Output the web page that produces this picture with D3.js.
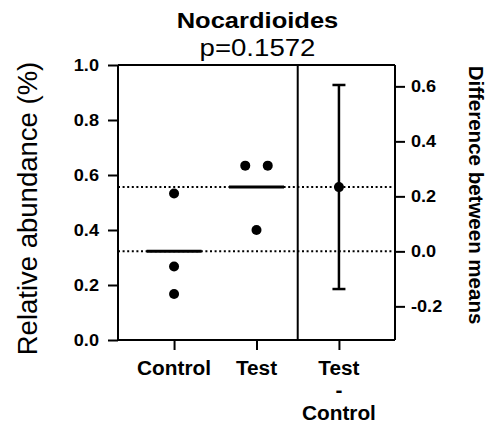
<!DOCTYPE html>
<html>
<head>
<meta charset="utf-8">
<script src="https://cdn.jsdelivr.net/npm/d3@7"></script>
<style>
  html, body { margin: 0; padding: 0; background: #fff; }
  svg { display: block; font-family: "Liberation Sans", Arial, Helvetica, sans-serif; }
</style>
</head>
<body>
<svg id="chart" width="487" height="427"></svg>
<script>
// ---- data ----
const title = "Nocardioides";
const pLabel = "p=0.1572";
const diffCategory = "Test - Control";
const categories = ["Control", "Test", "Test - Control"];
const controlValues = [0.533, 0.267, 0.167];
const testValues = [0.634, 0.634, 0.400];
const diffCI = [-0.137, 0.605];
const leftTicks = [0.0, 0.2, 0.4, 0.6, 0.8, 1.0];
const rightTicks = [-0.2, 0.0, 0.2, 0.4, 0.6];
const yLabel = "Relative abundance (%)";
const y2Label = "Difference between means";

// ---- layout ----
const svg = d3.select("#chart");
const L = 118, R = 395, T = 65, B = 340;
const ink = "#000";

const x = d3.scalePoint().domain(categories).range([L, R]).padding(0.68);
const y = d3.scaleLinear().domain([0, 1]).range([B, T]);

const meanC = d3.mean(controlValues);
const meanT = d3.mean(testValues);
const diff = meanT - meanC;
const y2 = d3.scaleLinear().domain([-meanC, 1 - meanC]).range([B, T]);

// horizontally stretched text helper
function stretchText(sel, s) {
  sel.each(function() {
    const t = d3.select(this);
    const xv = +t.attr("x") || 0;
    t.attr("x", xv / s).attr("transform", `scale(${s},1)`);
  });
}

// dotted reference lines
svg.append("g").selectAll("line").data([meanC, meanT]).join("line")
  .attr("x1", L).attr("x2", R)
  .attr("y1", d => y(d)).attr("y2", d => y(d))
  .attr("stroke", ink).attr("stroke-width", 2).attr("stroke-dasharray", "2,2.6");

// frame: top border and divider
const divX = (x("Test") + x("Test - Control")) / 2;
svg.append("line").attr("x1", L).attr("x2", R).attr("y1", T).attr("y2", T)
  .attr("stroke", ink).attr("stroke-width", 2);
svg.append("line").attr("x1", divX).attr("x2", divX).attr("y1", T).attr("y2", B)
  .attr("stroke", ink).attr("stroke-width", 2);

// left axis
const gL = svg.append("g").attr("transform", `translate(${L},0)`)
  .call(d3.axisLeft(y).tickValues(leftTicks).tickFormat(d3.format(".1f")).tickSize(10).tickSizeOuter(0).tickPadding(9));
// right axis
const gR = svg.append("g").attr("transform", `translate(${R},0)`)
  .call(d3.axisRight(y2).tickValues(rightTicks).tickFormat(d => d3.format(".1f")(d).replace("−", "-")).tickSize(10).tickSizeOuter(0).tickPadding(6));
// bottom axis
const gB = svg.append("g").attr("transform", `translate(0,${B})`)
  .call(d3.axisBottom(x).tickSize(10).tickSizeOuter(0).tickFormat(() => ""));

[gL, gR, gB].forEach(g => {
  g.select(".domain").attr("stroke", ink).attr("stroke-width", 2);
  g.selectAll(".tick line").attr("stroke", ink).attr("stroke-width", 2);
  g.selectAll(".tick text").attr("fill", ink).attr("font-size", 16.5).attr("font-weight", "bold")
    .attr("font-family", "'Liberation Sans', Arial, sans-serif");
});
stretchText(gL.selectAll(".tick text"), 1.1);
stretchText(gR.selectAll(".tick text"), 1.1);
gB.select(".domain").attr("d", `M${L},0H${R}`);
gL.select(".domain").attr("d", `M0,${B}V${T}`);
gR.select(".domain").attr("d", `M0,${B}V${T}`);

// x labels (multi-line)
const xs = 1.04;
svg.append("g").selectAll("text").data(categories).join("text")
  .attr("y", 375).attr("transform", `scale(${xs},1)`)
  .attr("text-anchor", "middle").attr("font-size", 20).attr("font-weight", "bold").attr("fill", ink)
  .each(function(d) {
    const parts = d === diffCategory ? ["Test", "-", "Control"] : [d];
    d3.select(this).selectAll("tspan").data(parts).join("tspan")
      .attr("x", x(d) / xs).attr("dy", (p, i) => i === 0 ? 0 : 22.5).text(p => p);
  });

// group points
const r = 5;
function jitter(vals) {
  const counts = {};
  vals.forEach(v => { counts[v] = (counts[v] || 0) + 1; });
  const idx = {};
  return vals.map(v => {
    const n = counts[v];
    idx[v] = idx[v] || 0;
    const off = (idx[v] - (n - 1) / 2) * (r * 4.5);
    idx[v]++;
    return { v, off };
  });
}
[["Control", controlValues], ["Test", testValues]].forEach(([g, vals]) => {
  svg.append("g").selectAll("circle").data(jitter(vals)).join("circle")
    .attr("cx", d => x(g) + d.off).attr("cy", d => y(d.v)).attr("r", r).attr("fill", ink);
  const m = d3.mean(vals);
  svg.append("line").attr("x1", x(g) - 27.5).attr("x2", x(g) + 27.5)
    .attr("y1", y(m)).attr("y2", y(m)).attr("stroke", ink).attr("stroke-width", 3);
});

// difference estimate with CI
const cx = x(diffCategory);
svg.append("line").attr("x1", cx).attr("x2", cx).attr("y1", y2(diffCI[0])).attr("y2", y2(diffCI[1]))
  .attr("stroke", ink).attr("stroke-width", 2.5);
diffCI.forEach(v => {
  svg.append("line").attr("x1", cx - 6.5).attr("x2", cx + 6.5).attr("y1", y2(v)).attr("y2", y2(v))
    .attr("stroke", ink).attr("stroke-width", 2.5);
});
svg.append("circle").attr("cx", cx).attr("cy", y2(diff)).attr("r", r).attr("fill", ink);

// titles
const tcx = (L + R) / 2 + 1;
const ts = 1.16;
svg.append("text").attr("x", tcx / ts).attr("y", 28).attr("transform", `scale(${ts},1)`)
  .attr("text-anchor", "middle").attr("font-size", 22).attr("font-weight", "bold").attr("fill", ink).text(title);
const ps = 1.2;
svg.append("text").attr("x", tcx / ps).attr("y", 56).attr("transform", `scale(${ps},1)`)
  .attr("text-anchor", "middle").attr("font-size", 23).attr("fill", ink).text(pLabel);

// axis titles
svg.append("text").attr("transform", `translate(37,${(T + B) / 2 + 6}) rotate(-90)`)
  .attr("text-anchor", "middle").attr("font-size", 27.5).attr("fill", ink).text(yLabel);
svg.append("text").attr("transform", `translate(469,${195}) rotate(90)`)
  .attr("text-anchor", "middle").attr("font-size", 20.5).attr("font-weight", "bold").attr("fill", ink).text(y2Label);
</script>
</body>
</html>
